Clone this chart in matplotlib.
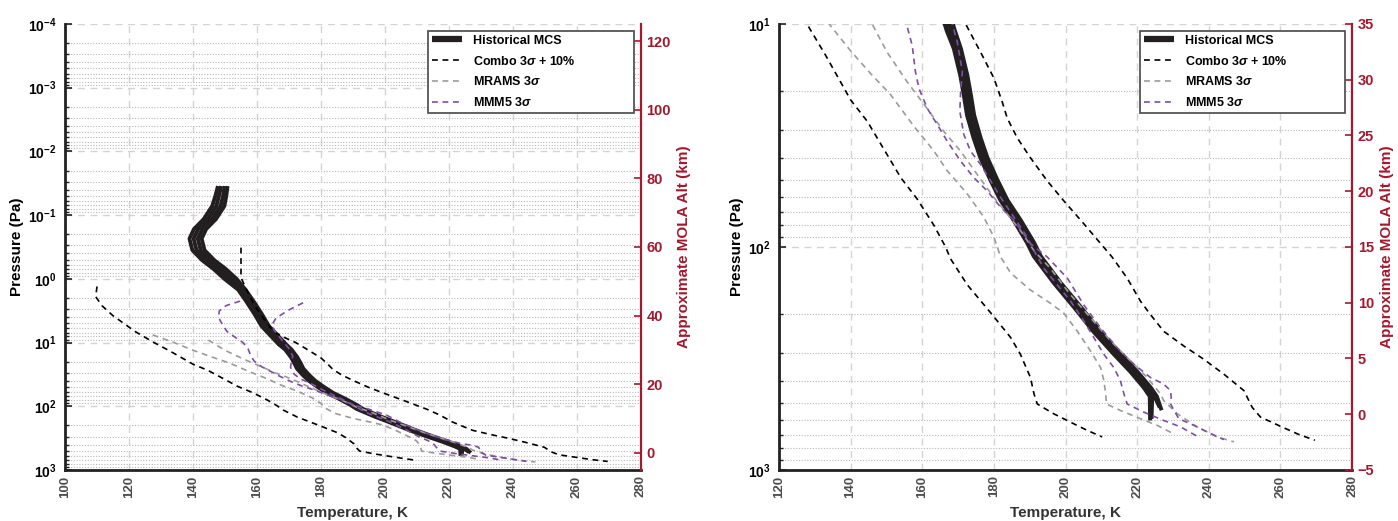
import numpy as np
import matplotlib.pyplot as plt
from matplotlib.ticker import LogLocator, NullFormatter, FixedLocator

plt.rcParams['font.family'] = ['Liberation Sans', 'DejaVu Sans']
plt.rcParams['font.weight'] = 'bold'
plt.rcParams['axes.labelweight'] = 'bold'
plt.rcParams['mathtext.fontset'] = 'custom'
plt.rcParams['mathtext.rm'] = 'Liberation Sans:bold'
plt.rcParams['mathtext.it'] = 'Liberation Sans:italic:bold'
plt.rcParams['mathtext.bf'] = 'Liberation Sans:bold'

# Historical MCS profiles: temperature (K) on a shared pressure grid (Pa)
mcs_p = [0.035, 0.05, 0.072, 0.115, 0.166, 0.234, 0.355, 0.513, 0.692, 1.0,
         1.48, 2.24, 3.63, 5.5, 7.4, 10.7, 12.9, 17.0, 20.9, 25.7, 32.4, 39.8,
         50.1, 61.7, 75.9, 95.5, 110, 145, 186, 240, 302, 363, 427, 468]
mcs_t1 = [147.8, 147.0, 146.0, 143.4, 140.3, 138.9, 139.8, 142.9, 146.3, 149.8,
          154.1, 156.6, 159.3, 161.4, 163.8, 166.8, 168.8, 170.6, 171.6, 172.5,
          174.3, 176.2, 179.0, 181.8, 185.5, 189.2, 191.1, 196.7, 202.3, 207.8,
          213.4, 218.1, 221.8, 223.5]
mcs_t2 = [148.8, 148.1, 147.3, 144.7, 141.6, 140.2, 141.1, 144.2, 147.6, 151.1,
          154.9, 157.4, 160.1, 162.2, 164.6, 167.6, 169.5, 171.3, 172.3, 173.2,
          175.0, 176.9, 179.7, 182.5, 186.2, 189.9, 191.8, 197.4, 203.0, 208.5,
          214.1, 218.8, 222.5, 224.2]
mcs_t3 = [149.9, 149.4, 148.6, 146.0, 142.9, 141.5, 142.4, 145.5, 148.9, 152.4,
          155.7, 158.2, 160.9, 163.0, 165.4, 168.4, 170.1, 171.9, 172.9, 173.8,
          175.6, 177.5, 180.3, 183.1, 186.8, 190.5, 192.4, 198.0, 203.6, 209.1,
          214.7, 219.4, 223.1, 224.8]
mcs_t4 = [150.8, 150.4, 149.8, 147.2, 144.1, 142.7, 143.6, 146.7, 150.1, 153.6,
          156.4, 158.9, 161.6, 163.7, 166.1, 169.1, 170.8, 172.6, 173.6, 174.5,
          176.3, 178.2, 181.0, 183.8, 187.5, 191.2, 193.1, 198.7, 204.3, 209.8,
          215.4, 220.1, 223.8, 225.5]
# lowest point of each profile
mcs_sfc_p = [600, 590, 525, 540]
mcs_sfc_t = [223.6, 224.0, 226.3, 226.8]

# Combo 3 sigma + 10% envelope
combo_cold_t = [110.0, 109.6, 111.5, 115.0, 118.1, 122.0, 127.8, 133.0, 140.0,
                144.7, 150.7, 154.0, 158.6, 163.3, 166.5, 167.9, 172.6, 179.5,
                184.7, 187.4, 190.2, 191.2, 192.1, 196.7, 202.3, 206.0, 210.2]
combo_cold_p = [1.32, 1.91, 2.63, 3.8, 4.9, 6.76, 10.0, 13.8, 21.9, 27.4, 39.8,
                48.9, 61.0, 80.2, 100, 113, 148, 201, 255, 303, 385, 456, 506,
                560, 621, 664, 711]
combo_warm_t = [155.0, 155.0, 156.5, 159.0, 162.0, 165.0, 168.5, 172.1, 176.3,
                180.0, 182.3, 183.7, 186.5, 190.2, 194.9, 199.5, 205.1, 209.8,
                213.0, 217.2, 220.9, 223.7, 227.4, 233.0, 238.6, 244.2, 249.8,
                252.1, 254.4, 260.8, 265.0, 269.6]
combo_warm_p = [0.324, 0.955, 1.41, 2.51, 4.17, 6.61, 8.32, 10.0, 13.4, 17.5,
                22.3, 26.4, 32.4, 39.8, 50.6, 62.1, 78.7, 96.6, 111, 138, 175,
                201, 239, 278, 319, 372, 441, 524, 579, 646, 692, 736]

# MRAMS 3 sigma envelope
mrams_cold_t = [127.4, 134.0, 140.0, 145.6, 151.2, 157.7, 163.3, 167.0, 172.6,
                177.2, 180.0, 181.9, 184.7, 190.2, 195.8, 199.5, 203.3, 207.0,
                209.8, 210.7, 211.2, 211.4, 215.3, 220.9, 225.6, 229.8]
mrams_cold_p = [7.59, 10.0, 13.2, 16.7, 20.8, 28.8, 37.2, 45.6, 57.9, 73.6,
                90.4, 111, 131, 156, 179, 198, 239, 293, 348, 398, 456, 506,
                541, 589, 631, 684]
mrams_warm_t = [144.8, 146.0, 150.2, 155.8, 160.9, 166.0, 170.7, 175.3, 180.0,
                183.7, 187.4, 191.2, 195.8, 201.4, 207.0, 212.6, 218.1, 222.8,
                226.5, 227.4, 231.2, 236.7, 242.3, 247.0]
mrams_warm_p = [9.18, 10.0, 13.4, 18.2, 23.4, 30.3, 37.2, 47.2, 60.0, 71.1,
                84.3, 104, 125, 164, 208, 264, 324, 385, 456, 489, 560, 641,
                711, 748]

# MMM5 3 sigma envelope
mmm5_a_t = [154.7, 150.4, 148.2, 148.0, 149.0, 150.5, 153.5, 155.6, 157.2,
            158.1, 159.1, 161.4, 164.2, 167.0, 170.7, 174.4, 178.1, 181.9,
            185.6, 190.2, 194.9, 200.5, 205.1, 209.8, 214.4, 219.1, 223.7,
            227.4, 229.3, 229.5, 229.3, 231.6, 235.8, 240.5, 244.2]
mmm5_a_p = [2.24, 2.63, 3.2, 4.06, 5.01, 6.61, 8.51, 10.0, 12.5, 16.4, 19.5,
            23.9, 28.3, 33.6, 41.2, 48.9, 56.0, 66.4, 76.0, 96.6, 111, 138, 182,
            231, 283, 336, 385, 412, 441, 472, 506, 589, 631, 687, 731]
mmm5_b_t = [174.4, 170.2, 166.0, 164.7, 165.5, 167.2, 168.4, 169.8, 171.2,
            170.7, 170.5, 171.6, 173.5, 176.3, 179.1, 181.9, 185.6, 189.3,
            191.2, 194.0, 197.7, 201.4, 205.1, 207.9, 210.7, 213.5, 215.3,
            216.3, 217.2, 221.9, 227.4, 232.1, 236.7]
mmm5_b_p = [2.38, 3.04, 4.1, 5.25, 6.61, 8.41, 10.0, 12.1, 16.4, 20.1, 24.7,
            31.3, 37.2, 42.7, 50.6, 60.0, 73.6, 90.4, 104, 125, 148, 175, 215,
            255, 303, 348, 398, 456, 506, 551, 600, 641, 706]

RED = '#a3192e'
PURPLE = '#7f4ea3'
GRAY = '#9b9b9b'
INK = '#231f20'
DASH = (0, (3.5, 2.8))


def draw_panel(ax, xlim, xticks, plim, pticks, alt_lim, alt_ticks):
    handles = []
    for t, ps, ts in zip([mcs_t1, mcs_t2, mcs_t3, mcs_t4], mcs_sfc_p, mcs_sfc_t):
        ln, = ax.plot(np.append(t, ts), np.append(mcs_p, ps), color=INK,
                      lw=2.8, solid_capstyle='butt', zorder=3)
    handles.append(ln)
    ln, = ax.plot(combo_cold_t, combo_cold_p, color='black', lw=1.2, ls=DASH, zorder=4)
    ax.plot(combo_warm_t, combo_warm_p, color='black', lw=1.2, ls=DASH, zorder=4)
    handles.append(ln)
    ln, = ax.plot(mrams_cold_t, mrams_cold_p, color=GRAY, lw=1.2, ls=DASH, zorder=4)
    ax.plot(mrams_warm_t, mrams_warm_p, color=GRAY, lw=1.2, ls=DASH, zorder=4)
    handles.append(ln)
    ln, = ax.plot(mmm5_a_t, mmm5_a_p, color=PURPLE, lw=1.2, ls=DASH, zorder=4)
    ax.plot(mmm5_b_t, mmm5_b_p, color=PURPLE, lw=1.2, ls=DASH, zorder=4)
    handles.append(ln)

    ax.set_yscale('log')
    ax.set_xlim(xlim)
    ax.set_ylim(plim)
    ax.set_xticks(xticks)
    ax.yaxis.set_major_locator(FixedLocator(pticks))
    ax.yaxis.set_minor_locator(LogLocator(base=10, subs=np.arange(2, 10), numticks=20))
    ax.yaxis.set_minor_formatter(NullFormatter())

    ax.grid(which='major', axis='both', color='#d4d4d4', lw=1.0, ls=(0, (5, 4)))
    ax.grid(which='minor', axis='y', color='#b8b8b8', lw=0.8, ls=(0, (1, 1.5)))
    ax.set_axisbelow(True)

    for side in ['top', 'right']:
        ax.spines[side].set_visible(False)
    for side in ['left', 'bottom']:
        ax.spines[side].set_linewidth(2)
        ax.spines[side].set_color('#222222')

    ax.tick_params(axis='x', length=0, labelrotation=90, labelsize=9.5,
                   labelcolor='#4d4d4d', pad=4)
    ax.tick_params(axis='y', which='major', direction='in', length=5, width=1.2,
                   labelsize=10, color='#222222', pad=6)
    ax.tick_params(axis='y', which='minor', direction='in', length=3, width=1,
                   color='#222222')

    ax.set_xlabel('Temperature, K', fontsize=11, color='#333333', labelpad=6)
    ax.set_ylabel('Pressure (Pa)', fontsize=11, color='black', labelpad=3)

    alt = ax.twinx()
    alt.set_ylim(alt_lim)
    alt.set_yticks(alt_ticks)
    for side in ['top', 'left', 'bottom']:
        alt.spines[side].set_visible(False)
    alt.spines['right'].set_color(RED)
    alt.spines['right'].set_linewidth(1.6)
    alt.tick_params(axis='y', direction='in', colors=RED, length=5, width=1.2,
                    labelsize=10.5, pad=4)
    alt.set_ylabel('Approximate MOLA Alt (km)', fontsize=11, color=RED, labelpad=4)

    labels = ['Historical MCS', r'Combo 3$\sigma$ + 10%', r'MRAMS 3$\sigma$',
              r'MMM5 3$\sigma$']
    leg = alt.legend(handles, labels, loc='upper left',
                     bbox_to_anchor=(0.630, 0.808, 0.358, 0.176), mode='expand',
                     fontsize=9, frameon=True, fancybox=False, framealpha=1,
                     edgecolor='#555555', borderpad=0.3, labelspacing=0.62,
                     handlelength=2.4, handletextpad=0.9, borderaxespad=0)
    leg.get_frame().set_linewidth(1.3)
    leg.legend_handles[0].set_linewidth(4.5)
    return alt


fig = plt.figure(figsize=(13.98, 5.21), dpi=100)
ax_full = fig.add_axes([0.0465, 0.098, 0.412, 0.856])
ax_zoom = fig.add_axes([0.5572, 0.098, 0.410, 0.856])

draw_panel(ax_full, (100, 280), np.arange(100, 281, 20), (1e3, 1e-4),
           [1e-4, 1e-3, 1e-2, 1e-1, 1e0, 1e1, 1e2, 1e3],
           (-5, 125), np.arange(0, 121, 20))
draw_panel(ax_zoom, (120, 280), np.arange(120, 281, 20), (1e3, 1e1),
           [1e1, 1e2, 1e3],
           (-5, 35), np.arange(-5, 36, 5))

fig.savefig('out.png', dpi=100)
